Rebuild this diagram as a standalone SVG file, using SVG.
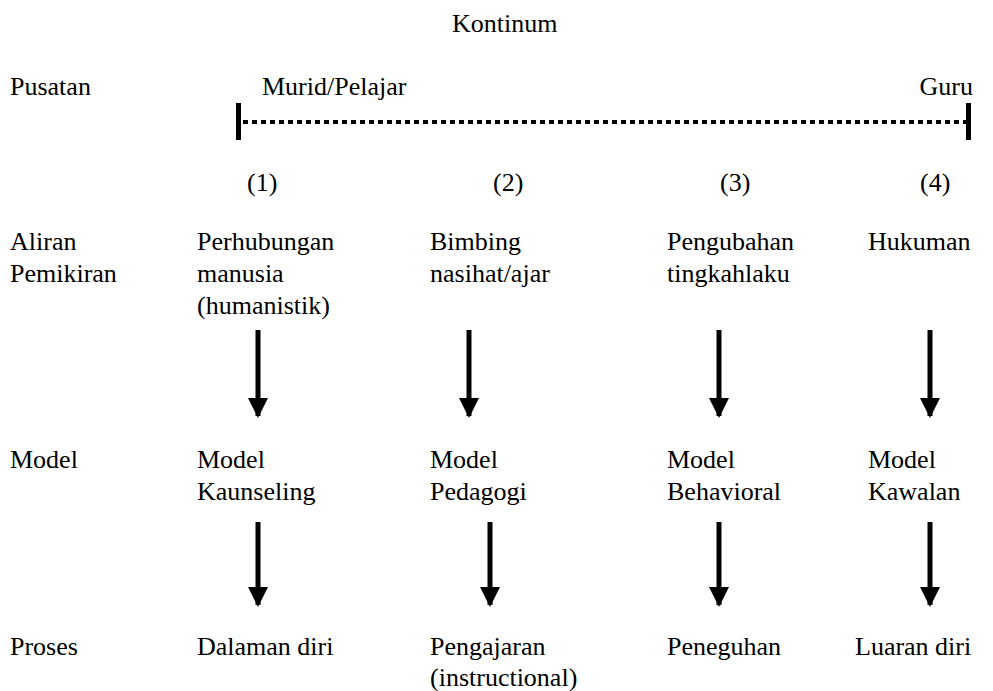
<svg xmlns="http://www.w3.org/2000/svg" width="993" height="691" viewBox="0 0 993 691">
<style>
text{font-family:'Liberation Serif','Times New Roman',serif;font-size:26px;fill:#000}
.arr{stroke:#000;stroke-width:5;fill:none}
.tick{stroke:#000;stroke-width:5}
.dot{stroke:#000;stroke-width:4;stroke-dasharray:5 4}
</style>
<defs>
<marker id="ah" markerWidth="4" markerHeight="4" refX="3.6" refY="2" orient="auto" markerUnits="strokeWidth"><path d="M0,0 L4,2 L0,4 Z" fill="#000"/></marker>
</defs>
<rect width="993" height="691" fill="#fff"/>
<g id="title"><text x="452" y="32">Kontinum</text></g>
<g id="pusatan">
<text x="10" y="95">Pusatan</text>
<text x="262" y="95">Murid/Pelajar</text>
<text x="973" y="95" text-anchor="end">Guru</text>
</g>
<g id="continuum">
<line class="dot" x1="243" y1="122" x2="966" y2="122"/>
<line class="tick" x1="238.5" y1="103" x2="238.5" y2="140"/>
<line class="tick" x1="968.5" y1="103" x2="968.5" y2="140"/>
</g>
<g id="numbers">
<text x="247" y="191">(1)</text>
<text x="493" y="191">(2)</text>
<text x="720" y="191">(3)</text>
<text x="920" y="191">(4)</text>
</g>
<g id="row-aliran">
<text x="10" y="250">Aliran</text>
<text x="10" y="282">Pemikiran</text>
</g>
<g id="aliran-1"><text x="197" y="250">Perhubungan</text><text x="197" y="282">manusia</text><text x="197" y="314">(humanistik)</text></g>
<g id="aliran-2"><text x="430" y="250">Bimbing</text><text x="430" y="282">nasihat/ajar</text></g>
<g id="aliran-3"><text x="667" y="250">Pengubahan</text><text x="667" y="282">tingkahlaku</text></g>
<g id="aliran-4"><text x="868" y="250">Hukuman</text></g>
<g id="row-model"><text x="10" y="468">Model</text></g>
<g id="model-1"><text x="197" y="468">Model</text><text x="197" y="500">Kaunseling</text></g>
<g id="model-2"><text x="430" y="468">Model</text><text x="430" y="500">Pedagogi</text></g>
<g id="model-3"><text x="667" y="468">Model</text><text x="667" y="500">Behavioral</text></g>
<g id="model-4"><text x="868" y="468">Model</text><text x="868" y="500">Kawalan</text></g>
<g id="row-proses"><text x="10" y="655">Proses</text></g>
<g id="proses-1"><text x="197" y="655">Dalaman diri</text></g>
<g id="proses-2"><text x="430" y="655">Pengajaran</text><text x="430" y="686">(instructional)</text></g>
<g id="proses-3"><text x="667" y="655">Peneguhan</text></g>
<g id="proses-4"><text x="855" y="655">Luaran diri</text></g>
<g id="connectors">
<line class="arr" x1="258" y1="330" x2="258" y2="416" marker-end="url(#ah)"/>
<line class="arr" x1="469" y1="330" x2="469" y2="416" marker-end="url(#ah)"/>
<line class="arr" x1="719" y1="330" x2="719" y2="416" marker-end="url(#ah)"/>
<line class="arr" x1="930" y1="330" x2="930" y2="416" marker-end="url(#ah)"/>
<line class="arr" x1="258" y1="522" x2="258" y2="605" marker-end="url(#ah)"/>
<line class="arr" x1="490" y1="522" x2="490" y2="605" marker-end="url(#ah)"/>
<line class="arr" x1="719" y1="522" x2="719" y2="605" marker-end="url(#ah)"/>
<line class="arr" x1="930" y1="522" x2="930" y2="605" marker-end="url(#ah)"/>
</g>
</svg>
